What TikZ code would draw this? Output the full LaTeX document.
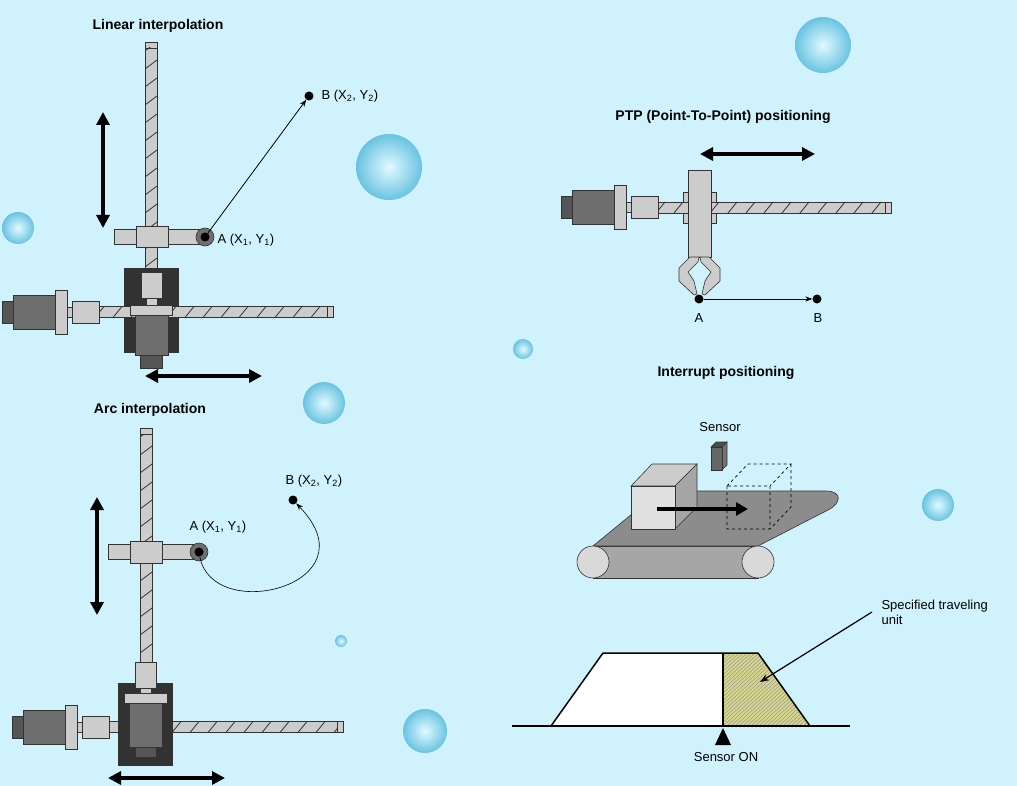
\documentclass[tikz,border=0pt]{standalone}
\usepackage{fontspec}
\setmainfont{Liberation Sans}
\usetikzlibrary{arrows.meta}
\definecolor{bg}{RGB}{207,242,252}
\definecolor{lgray}{RGB}{204,204,204}
\definecolor{mgray}{RGB}{110,110,110}
\definecolor{dgray}{RGB}{85,85,85}
\definecolor{blk}{RGB}{50,50,50}
\definecolor{ballin}{RGB}{225,250,255}
\definecolor{ballout}{RGB}{105,195,225}
\definecolor{hatchc}{RGB}{215,215,140}
\tikzset{
  part/.style={draw=black!80, line width=0.6pt},
  title/.style={font=\fontsize{14}{16}\selectfont\bfseries},
  lbl/.style={font=\fontsize{13}{15}\selectfont},
  move/.style={line width=3.5pt, {Triangle[length=13pt,width=13pt]}-{Triangle[length=13pt,width=13pt]}},
  bubble/.style={inner color=ballin, outer color=ballout},
  dot/.style={circle, fill=black, inner sep=0pt, minimum size=9pt},
}
% horizontal screw: x0, x1, y
\newcommand\hscrew[3]{
  \fill[lgray] (#1,#3-5.5) rectangle (#2,#3+5.5);
  \begin{scope}
    \clip (#1,#3-5.5) rectangle (#2-6,#3+5.5);
    \foreach \t in {0,18,...,260} \draw[black!80, line width=0.8pt] (#1+\t,#3+5.5) -- (#1+\t+9,#3-5.5);
  \end{scope}
  \draw[part] (#1,#3-5.5) rectangle (#2,#3+5.5);
  \draw[part] (#2-6,#3-5.5) -- (#2-6,#3+5.5);
}
% vertical screw: x, y0, y1
\newcommand\vscrew[3]{
  \fill[lgray] (#1-6,#2) rectangle (#1+6,#3);
  \begin{scope}
    \clip (#1-6,#2+6) rectangle (#1+6,#3);
    \foreach \t in {0,18,...,260} \draw[black!80, line width=0.8pt] (#1-6,#2+\t+9) -- (#1+6,#2+\t);
  \end{scope}
  \draw[part] (#1-6,#2) rectangle (#1+6,#3);
  \draw[part] (#1-6,#2+6) -- (#1+6,#2+6);
}
% motor: left x, center y
\newcommand\motor[2]{
  \draw[part, fill=dgray] (#1,#2-11) rectangle (#1+11,#2+11);
  \draw[part, fill=mgray] (#1+11,#2-17) rectangle (#1+53,#2+17);
  \draw[part, fill=lgray] (#1+53,#2-22) rectangle (#1+65,#2+22);
  \draw[part, fill=lgray] (#1+65,#2-5) rectangle (#1+70,#2+5);
  \draw[part, fill=lgray] (#1+70,#2-11) rectangle (#1+97,#2+11);
}
\begin{document}
\begin{tikzpicture}[x=1pt,y=-1pt]
\fill[bg] (0,0) rectangle (1017,786);
\useasboundingbox (0,0) rectangle (1017,786);

% bubbles
\foreach \bx/\by/\br in {823/45/28, 389/167/33, 18/228/16, 523/349/10, 324/403/21, 938/505/16, 341/641/6, 425/731/22}
  \shade[bubble] (\bx,\by) circle (\br);

% ---- Linear interpolation ----
\node[title] (lintitle) at (158,26) {Linear interpolation};
\vscrew{151}{42}{270}
\draw[part, fill=lgray] (114,229) rectangle (200,244);
\draw[part, fill=lgray] (136,226) rectangle (168,247);
\draw[part, fill=mgray] (205,237) circle (9);
\node[dot] (la) at (205,237) {};
\draw[part, fill=blk] (124,268) rectangle (178,352);
\draw[part, fill=lgray] (141,272) rectangle (162,298);
\draw[part, fill=lgray] (146,298) rectangle (157,305);
\hscrew{95}{333}{312}
\draw[part, fill=lgray] (130,305) rectangle (172,315);
\draw[part, fill=mgray] (135,315) rectangle (168,355);
\draw[part, fill=dgray] (140,355) rectangle (162,368);
\motor{2}{312}
\node[dot] (lb) at (309,96) {};
\draw[-{Stealth[length=7pt]}, line width=0.8pt] (la) -- (lb);
\node[lbl, anchor=west] (latext) at (214,240) {A (X\textsubscript{1}, Y\textsubscript{1})};
\node[lbl, anchor=west] (lbtext) at (318,96) {B (X\textsubscript{2}, Y\textsubscript{2})};
\coordinate (lv1) at (103,112); \coordinate (lv2) at (103,228);
\draw[move] (lv1) -- (lv2);
\coordinate (lh1) at (145,376); \coordinate (lh2) at (262,376);
\draw[move] (lh1) -- (lh2);

% ---- Arc interpolation ----
\node[title] (arctitle) at (150,410) {Arc interpolation};
\vscrew{146}{428}{665}
\draw[part, fill=lgray] (108,544) rectangle (195,559);
\draw[part, fill=lgray] (130,541) rectangle (162,563);
\draw[part, fill=mgray] (199,552) circle (9);
\node[dot] (aa) at (199,552) {};
\draw[part, fill=blk] (118,683) rectangle (172,765);
\draw[part, fill=lgray] (135,662) rectangle (156,688);
\draw[part, fill=lgray] (140,688) rectangle (151,693);
\hscrew{172}{343}{727}
\fill[lgray] (108,721.5) rectangle (118,732.5);
\draw[part] (108,721.5) -- (118,721.5) (108,732.5) -- (118,732.5);
\draw[part, fill=lgray] (124,693) rectangle (167,703);
\draw[part, fill=mgray] (129,703) rectangle (162,747);
\draw[part, fill=dgray] (135,747) rectangle (156,757);
\motor{12}{727}
\node[dot] (ab) at (293,500) {};
\draw[-{Stealth[length=7pt]}, line width=0.6pt] (aa) .. controls (212,625) and (375,585) .. (ab);
\node[lbl, anchor=west] (aatext) at (186,527) {A (X\textsubscript{1}, Y\textsubscript{1})};
\node[lbl, anchor=west] (abtext) at (282,481) {B (X\textsubscript{2}, Y\textsubscript{2})};
\coordinate (av1) at (97,497); \coordinate (av2) at (97,615);
\draw[move] (av1) -- (av2);
\coordinate (ah1) at (108,778); \coordinate (ah2) at (225,778);
\draw[move] (ah1) -- (ah2);

% ---- PTP positioning ----
\node[title] (ptptitle) at (723,117) {PTP (Point-To-Point) positioning};
\coordinate (ph1) at (700,154); \coordinate (ph2) at (815,154);
\draw[move] (ph1) -- (ph2);
\draw[part, fill=lgray] (683,192) rectangle (716,223);
\hscrew{656}{891}{207.5}
\motor{561}{207.5}
\draw[part, fill=lgray] (688,170) rectangle (711,257);
\draw[part, fill=lgray] (690,257) -- (679,268) -- (679,281) -- (694,295) -- (697,294) -- (694,281) -- (688,272) -- (698,262) -- (699,257) -- cycle;
\draw[part, fill=lgray] (709,257) -- (720,268) -- (720,281) -- (705,295) -- (702,294) -- (705,281) -- (711,272) -- (701,262) -- (700,257) -- cycle;
\node[dot] (pa) at (699,299) {};
\node[dot] (pb) at (817,299) {};
\draw[-{Stealth[length=7pt]}, line width=0.8pt] (pa) -- (pb);
\node[lbl] (patext) at (699,318) {A};
\node[lbl] (pbtext) at (818,318) {B};

% ---- Interrupt positioning ----
\node[title] (inttitle) at (726,373) {Interrupt positioning};
\node[lbl] (sensortext) at (720,427) {Sensor};
% conveyor
\draw[part, fill=black!35] (593,546) -- (758,546) -- (758,578) -- (593,578) -- cycle;
\draw[part, fill=black!45] (593,546) -- (758,546) -- (828,510) .. controls (842,503) and (842,491) .. (826,491) -- (660,491) -- cycle;
\draw[part, fill=black!15] (593,562) circle (16);
\draw[part, fill=black!15] (758,562) circle (16);
% sensor
\draw[part, fill=black!70] (716,442) -- (727,442) -- (722,447) -- (711,447) -- cycle;
\draw[part, fill=black!55] (722,447) -- (727,442) -- (727,465) -- (722,470) -- cycle;
\draw[part, fill=black!60] (711,447) rectangle (722,470);
% workpiece
\draw[part, fill=black!20] (631,486) -- (652,464) -- (697,464) -- (675,486) -- cycle;
\draw[part, fill=black!35] (675,486) -- (697,464) -- (697,507) -- (675,529) -- cycle;
\draw[part, fill=black!12] (631,486) rectangle (675,529);
% target position
\draw[dashed, line width=0.7pt] (727,486) rectangle (770,529) (727,486) -- (748,464) -- (791,464) -- (770,486) (791,464) -- (791,507) -- (770,529);
\coordinate (ia1) at (657,509); \coordinate (ia2) at (748,509);
\draw[line width=4.5pt, -{Triangle[length=12pt,width=13pt]}] (ia1) -- (ia2);
% speed profile
\fill[white] (551,726) -- (603,653) -- (723,653) -- (723,726) -- cycle;
\fill[hatchc] (723,653) -- (758,653) -- (810,726) -- (723,726) -- cycle;
\begin{scope}
  \clip (723,653) -- (758,653) -- (810,726) -- (723,726) -- cycle;
  \foreach \t in {0,4,...,170} \draw[black!45, line width=0.4pt] (723+\t-80,726) -- (723+\t,653);
\end{scope}
\draw[line width=1.5pt, line join=round] (551,726) -- (603,653) -- (758,653) -- (810,726);
\draw[line width=1.5pt] (723,653) -- (723,726);
\coordinate (base1) at (512,726); \coordinate (base2) at (850,726);
\draw[line width=1.5pt] (base1) -- (base2);
\fill (723,728) -- (731,745) -- (715,745) -- cycle;
\node[lbl] (sontext) at (726,757) {Sensor ON};
\node[lbl, anchor=north west, align=left] (sputext) at (878,597) {Specified traveling\\unit};
\coordinate (sp1) at (872,612); \coordinate (sp2) at (760,682);
\draw[line width=1.2pt, -{Stealth[length=9pt]}] (sp1) -- (sp2);
\end{tikzpicture}
\end{document}
